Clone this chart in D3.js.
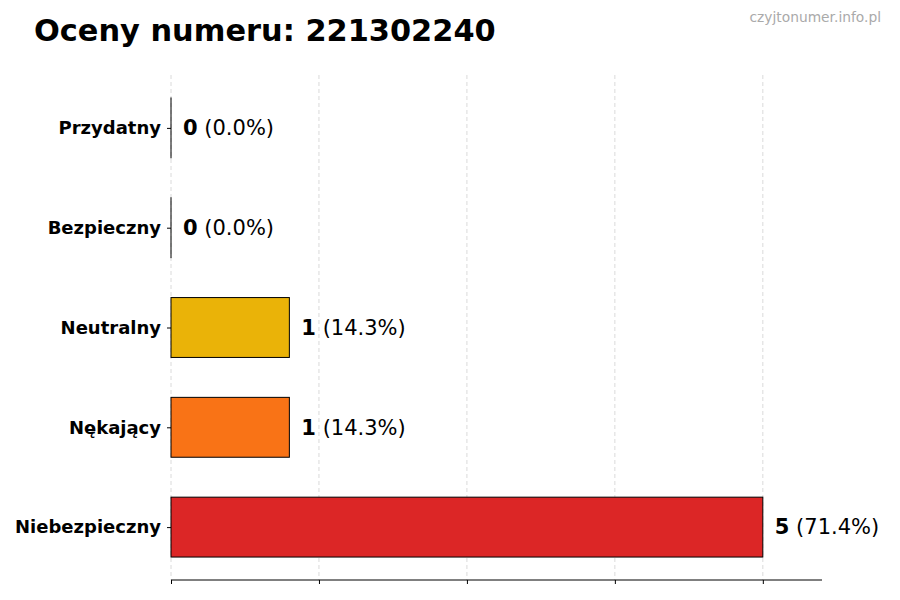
<!DOCTYPE html>
<html>
<head>
<meta charset="utf-8">
<script src="https://cdn.jsdelivr.net/npm/d3@7"></script>
<style>
  body { margin: 0; background: #fff; }
  text { font-family: "DejaVu Sans", sans-serif; }
</style>
</head>
<body>
<div id="container"></div>
<script>
// chart data, bottom to top
var categories = ["Niebezpieczny", "Nękający", "Neutralny", "Bezpieczny", "Przydatny"];
var counts = [5, 1, 1, 0, 0];
var percents = ["71.4%", "14.3%", "14.3%", "0.0%", "0.0%"];
var colors = ["#dc2626", "#f97316", "#eab308", "#84cc16", "#16a34a"];
var xTicks = [0, 1.25, 2.5, 3.75, 5];

var width = 900, height = 600;
var plot = {left: 171, right: 822, top: 75, bottom: 580};

var svg = d3.select("#container")
    .append("svg")
        .attr("width", width)
        .attr("height", height);

var x = d3.scaleLinear()
    .domain([0, 5.5])
    .range([plot.left, plot.right]);

var y = d3.scaleLinear()
    .domain([-0.53, categories.length - 1 + 0.53])
    .range([plot.bottom, plot.top]);

var barH = (y(0) - y(1)) * 0.6;

// vertical grid lines
svg.selectAll("line.grid")
    .data(xTicks)
    .enter()
    .append("line")
        .attr("class", "grid")
        .attr("x1", function(d){ return x(d); })
        .attr("x2", function(d){ return x(d); })
        .attr("y1", plot.top)
        .attr("y2", plot.bottom)
        .attr("stroke", "#d0d0d0")
        .attr("stroke-width", 0.8)
        .attr("stroke-dasharray", "4,3");

// bars (zero bars keep a hairline edge like matplotlib)
svg.selectAll("rect.bar")
    .data(categories)
    .enter()
    .append("rect")
        .attr("class", "bar")
        .attr("x", x(0))
        .attr("y", function(d, i){ return y(i) - barH / 2; })
        .attr("width", function(d, i){ return Math.max(x(counts[i]) - x(0), 0.01); })
        .attr("height", barH)
        .attr("fill", function(d, i){ return colors[i]; })
        .attr("stroke", "#000")
        .attr("stroke-width", 1);

// bottom axis, no labels
var xAxis = d3.axisBottom(x)
    .tickValues(xTicks)
    .tickSize(4)
    .tickFormat("");
svg.append("g")
    .attr("transform", "translate(0," + plot.bottom + ")")
    .call(xAxis)
    .call(function(g){
        g.select(".domain").attr("d", "M" + plot.left + ",0H" + plot.right);
    });

// left axis: ticks and labels only
var yAxis = d3.axisLeft(y)
    .tickValues(d3.range(categories.length))
    .tickSize(4)
    .tickPadding(6)
    .tickFormat(function(i){ return categories[i]; });
svg.append("g")
    .attr("transform", "translate(" + plot.left + ",0)")
    .call(yAxis)
    .call(function(g){
        g.select(".domain").remove();
        g.selectAll("text")
            .attr("font-family", "DejaVu Sans")
            .attr("font-size", "18px")
            .attr("font-weight", "bold")
            .attr("fill", "#000");
    });

// value labels
var labels = svg.selectAll("text.val")
    .data(categories)
    .enter()
    .append("text")
        .attr("class", "val")
        .attr("x", function(d, i){ return x(counts[i]) + 12; })
        .attr("y", function(d, i){ return y(i); })
        .attr("dy", "0.35em")
        .attr("font-size", "21px")
        .attr("fill", "#000");
labels.append("tspan")
    .attr("font-weight", "bold")
    .text(function(d, i){ return counts[i]; });
labels.append("tspan")
    .text(function(d, i){ return " (" + percents[i] + ")"; });

// title
svg.append("text")
    .attr("x", 34)
    .attr("y", 41)
    .text("Oceny numeru: 221302240")
    .attr("font-size", "30.4px")
    .attr("font-weight", "bold")
    .attr("fill", "#000");

// watermark
svg.append("text")
    .attr("x", 881)
    .attr("y", 22)
    .attr("text-anchor", "end")
    .text("czyjtonumer.info.pl")
    .attr("font-size", "13.8px")
    .attr("fill", "#aaaaaa");
</script>
</body>
</html>
